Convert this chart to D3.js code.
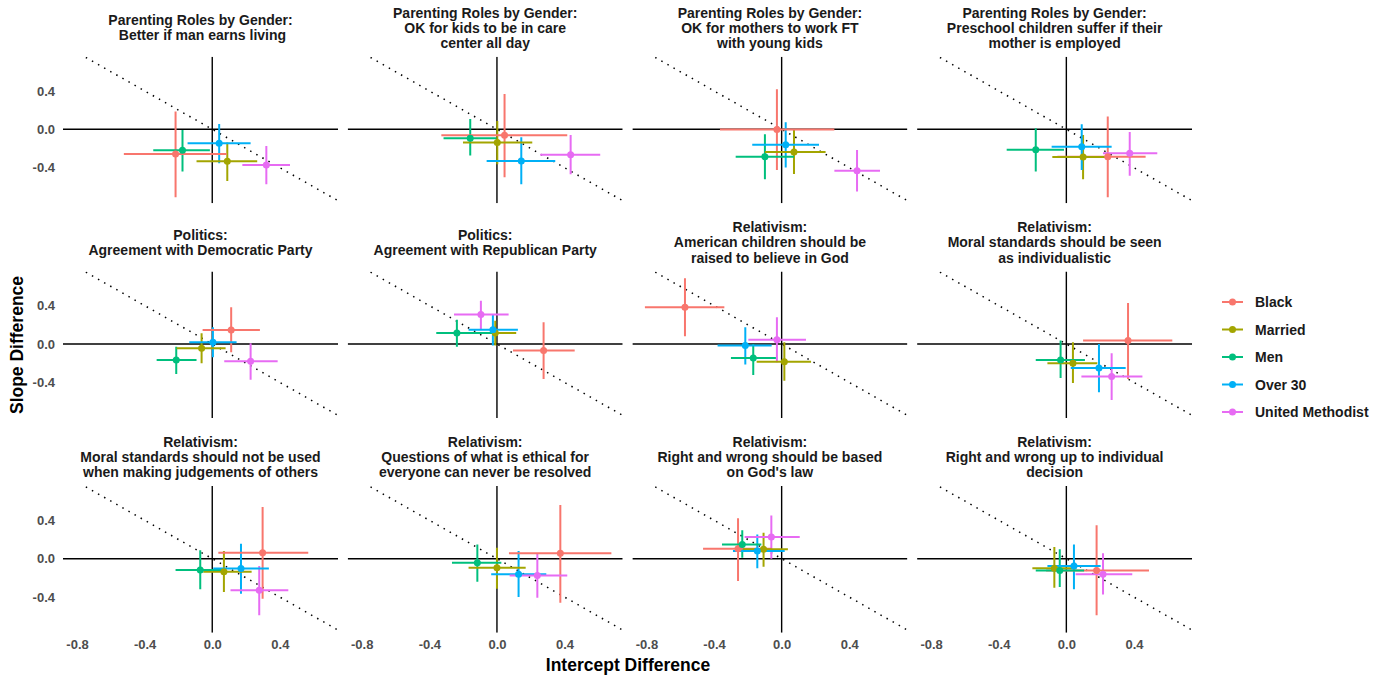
<!DOCTYPE html>
<html><head><meta charset="utf-8">
<script src="https://cdn.jsdelivr.net/npm/d3@7"></script>
<style>body{margin:0;background:#fff} text{font-family:"Liberation Sans",Arial,sans-serif}</style>
</head><body><svg id="c" width="1387" height="679"></svg>
<script>
const groups = ["Black", "Married", "Men", "Over 30", "United Methodist"];
const colors = ["#F8766D", "#A3A500", "#00BF7D", "#00B0F6", "#E76BF3"];
const titles = [
  ["Parenting Roles by Gender:", " Better if man earns living"],
  ["Parenting Roles by Gender:", "OK for kids to be in care", "center all day"],
  ["Parenting Roles by Gender:", "OK for mothers to work FT", "with young kids"],
  ["Parenting Roles by Gender:", "Preschool children suffer if their", "mother is employed"],
  ["Politics:", "Agreement with Democratic Party"],
  ["Politics:", "Agreement with Republican Party"],
  ["Relativism:", "American children should be", "raised to believe in God"],
  ["Relativism:", "Moral standards should be seen", "as individualistic"],
  ["Relativism:", "Moral standards should not be used", "when making judgements of others"],
  ["Relativism:", "Questions of what is ethical for", "everyone can never be resolved"],
  ["Relativism:", "Right and wrong should be based", "on God's law"],
  ["Relativism:", "Right and wrong up to individual", "decision"]
];
// per panel: [Black, Married, Men, Over 30, United Methodist]
const interceptDiff = [
  [-0.217, 0.089, -0.176, 0.041, 0.320],
  [0.045, 0.002, -0.158, 0.144, 0.436],
  [-0.028, 0.073, -0.099, 0.024, 0.446],
  [0.245, 0.099, -0.181, 0.091, 0.375],
  [0.112, -0.063, -0.213, 0.004, 0.227],
  [0.276, -0.010, -0.237, -0.024, -0.095],
  [-0.572, 0.016, -0.168, -0.215, -0.028],
  [0.365, 0.039, -0.034, 0.193, 0.268],
  [0.298, 0.069, -0.071, 0.170, 0.278],
  [0.375, 0.000, -0.116, 0.128, 0.239],
  [-0.258, -0.107, -0.233, -0.144, -0.061],
  [0.179, -0.071, -0.039, 0.045, 0.217]
];
const interceptLow = [
  [-0.523, -0.093, -0.349, -0.146, 0.178],
  [-0.329, -0.201, -0.316, -0.061, 0.256],
  [-0.365, -0.099, -0.272, -0.174, 0.312],
  [-0.053, -0.083, -0.353, -0.087, 0.217],
  [-0.057, -0.211, -0.329, -0.136, 0.071],
  [0.095, -0.112, -0.359, -0.168, -0.254],
  [-0.809, -0.148, -0.300, -0.379, -0.197],
  [0.099, -0.112, -0.181, 0.026, 0.089],
  [0.036, -0.053, -0.217, 0.006, 0.108],
  [0.071, -0.168, -0.266, -0.034, 0.075],
  [-0.465, -0.229, -0.353, -0.288, -0.219],
  [-0.120, -0.201, -0.181, -0.112, 0.055]
];
const interceptHigh = [
  [0.085, 0.266, -0.014, 0.227, 0.460],
  [0.416, 0.209, -0.004, 0.345, 0.611],
  [0.312, 0.260, 0.073, 0.221, 0.582],
  [0.469, 0.247, -0.014, 0.268, 0.538],
  [0.282, 0.079, -0.093, 0.144, 0.387],
  [0.460, 0.114, -0.020, 0.124, 0.069],
  [-0.339, 0.174, -0.034, -0.059, 0.144],
  [0.627, 0.183, 0.110, 0.351, 0.450],
  [0.568, 0.233, 0.065, 0.335, 0.450],
  [0.677, 0.170, 0.026, 0.292, 0.416],
  [-0.060, 0.037, -0.120, 0.018, 0.107],
  [0.489, 0.059, 0.105, 0.203, 0.390]
];
const slopeDiff = [
  [-0.257, -0.333, -0.219, -0.146, -0.372],
  [-0.063, -0.139, -0.094, -0.330, -0.264],
  [-0.003, -0.236, -0.285, -0.160, -0.431],
  [-0.285, -0.288, -0.212, -0.181, -0.250],
  [0.146, -0.045, -0.167, 0.017, -0.181],
  [-0.069, 0.115, 0.115, 0.149, 0.306],
  [0.382, -0.184, -0.146, -0.017, 0.045],
  [0.035, -0.201, -0.167, -0.250, -0.340],
  [0.063, -0.135, -0.118, -0.101, -0.330],
  [0.056, -0.094, -0.042, -0.163, -0.174],
  [0.104, 0.097, 0.149, 0.080, 0.226],
  [-0.122, -0.100, -0.122, -0.076, -0.163]
];
const slopeLow = [
  [-0.708, -0.538, -0.441, -0.354, -0.573],
  [-0.500, -0.365, -0.274, -0.573, -0.469],
  [-0.424, -0.465, -0.521, -0.399, -0.649],
  [-0.708, -0.521, -0.441, -0.424, -0.483],
  [-0.087, -0.201, -0.313, -0.139, -0.372],
  [-0.365, -0.017, -0.028, -0.017, 0.156],
  [0.080, -0.382, -0.323, -0.215, -0.191],
  [-0.365, -0.406, -0.354, -0.503, -0.583],
  [-0.417, -0.347, -0.319, -0.365, -0.590],
  [-0.458, -0.313, -0.240, -0.399, -0.406],
  [-0.233, -0.083, 0.010, -0.100, 0.000],
  [-0.590, -0.302, -0.295, -0.319, -0.372]
];
const slopeHigh = [
  [0.184, -0.139, -0.007, 0.056, -0.174],
  [0.368, 0.087, 0.108, -0.083, -0.059],
  [0.417, -0.007, -0.052, 0.073, -0.215],
  [0.132, -0.059, 0.010, 0.052, -0.028],
  [0.382, 0.111, -0.028, 0.174, 0.007],
  [0.226, 0.243, 0.253, 0.302, 0.451],
  [0.684, 0.017, 0.000, 0.174, 0.278],
  [0.427, 0.017, 0.035, 0.000, -0.097],
  [0.538, 0.080, 0.087, 0.156, -0.076],
  [0.559, 0.115, 0.149, 0.080, 0.052],
  [0.420, 0.271, 0.295, 0.253, 0.451],
  [0.347, 0.122, 0.097, 0.149, 0.056]
];
const xTicks = [-0.8, -0.4, 0.0, 0.4];
const yTicks = [0.4, 0.0, -0.4];

const svg = d3.select("#c");
const PW = 275, PH = 146.6;
const colX = i => 63 + i * 284.7;
const rowY = j => 56.7 + j * 214.7;
const x = d3.scaleLinear().domain([-0.883, 0.744]).range([0, PW]);
const y = d3.scaleLinear().domain([-0.771, 0.756]).range([PH, 0]);
const fmt = d => d.toFixed(1);

titles.forEach((t, p) => {
  const ci = p % 4, rj = Math.floor(p / 4);
  const g = svg.append("g").attr("transform", `translate(${colX(ci)},${rowY(rj)})`);
  // title
  const cy = -29, lh = 15.2;
  const tt = g.append("text").attr("text-anchor", "middle").attr("font-size", 14)
    .attr("font-weight", "bold").attr("fill", "#1a1a1a");
  t.forEach((line, k) => {
    tt.append("tspan").attr("x", PW / 2)
      .attr("y", cy + (k - (t.length - 1) / 2) * lh + 5)
      .attr("xml:space", "preserve").text(line);
  });
  const clip = "clip" + p;
  g.append("clipPath").attr("id", clip).append("rect").attr("width", PW).attr("height", PH);
  const body = g.append("g").attr("clip-path", `url(#${clip})`);
  // reference lines
  body.append("line").attr("x1", 0).attr("x2", PW).attr("y1", y(0)).attr("y2", y(0))
    .attr("stroke", "#000").attr("stroke-width", 1.4);
  body.append("line").attr("x1", x(0)).attr("x2", x(0)).attr("y1", 0).attr("y2", PH)
    .attr("stroke", "#000").attr("stroke-width", 1.4);
  body.append("line").attr("x1", x(-1)).attr("y1", y(1)).attr("x2", x(1)).attr("y2", y(-1))
    .attr("stroke", "#000").attr("stroke-width", 1.5).attr("stroke-dasharray", "1.5,5.5");
  const idx = d3.range(groups.length);
  body.selectAll(".ev").data(idx).join("line")
    .attr("x1", i => x(interceptDiff[p][i])).attr("x2", i => x(interceptDiff[p][i]))
    .attr("y1", i => y(slopeLow[p][i])).attr("y2", i => y(slopeHigh[p][i]))
    .attr("stroke", i => colors[i]).attr("stroke-width", 2);
  body.selectAll(".eh").data(idx).join("line")
    .attr("y1", i => y(slopeDiff[p][i])).attr("y2", i => y(slopeDiff[p][i]))
    .attr("x1", i => x(interceptLow[p][i])).attr("x2", i => x(interceptHigh[p][i]))
    .attr("stroke", i => colors[i]).attr("stroke-width", 2);
  body.selectAll("circle").data(idx).join("circle")
    .attr("cx", i => x(interceptDiff[p][i])).attr("cy", i => y(slopeDiff[p][i]))
    .attr("r", 3.5).attr("fill", i => colors[i]);
  // axes
  if (ci === 0) {
    const ay = g.append("g").call(d3.axisLeft(y).tickValues(yTicks).tickFormat(fmt).tickSize(0).tickPadding(8));
    ay.select(".domain").remove();
    ay.selectAll("text").attr("font-size", 13).attr("font-weight", "bold").attr("fill", "#4d4d4d")
      .attr("font-family", '"Liberation Sans",Arial,sans-serif');
  }
  if (rj === 2) {
    const ax = g.append("g").attr("transform", `translate(0,${PH})`)
      .call(d3.axisBottom(x).tickValues(xTicks).tickFormat(fmt).tickSize(0).tickPadding(7));
    ax.select(".domain").remove();
    ax.selectAll("text").attr("font-size", 13).attr("font-weight", "bold").attr("fill", "#4d4d4d")
      .attr("font-family", '"Liberation Sans",Arial,sans-serif');
  }
});

// axis titles
svg.append("text").attr("x", 628).attr("y", 671).attr("text-anchor", "middle")
  .attr("font-size", 17.5).attr("font-weight", "bold").attr("fill", "#000").text("Intercept Difference");
svg.append("text").attr("transform", "translate(23,345) rotate(-90)").attr("text-anchor", "middle")
  .attr("font-size", 17.5).attr("font-weight", "bold").attr("fill", "#000").text("Slope Difference");

// legend
const lg = svg.append("g").attr("transform", "translate(1222,302)");
groups.forEach((gname, i) => {
  const r = lg.append("g").attr("transform", `translate(0,${i * 27.5})`);
  r.append("line").attr("x1", 0).attr("x2", 21).attr("stroke", colors[i]).attr("stroke-width", 2);
  r.append("circle").attr("cx", 10.5).attr("r", 3.5).attr("fill", colors[i]);
  r.append("text").attr("x", 33).attr("y", 5).attr("font-size", 14).attr("font-weight", "bold")
    .attr("fill", "#1a1a1a").text(gname);
});
</script></body></html>
